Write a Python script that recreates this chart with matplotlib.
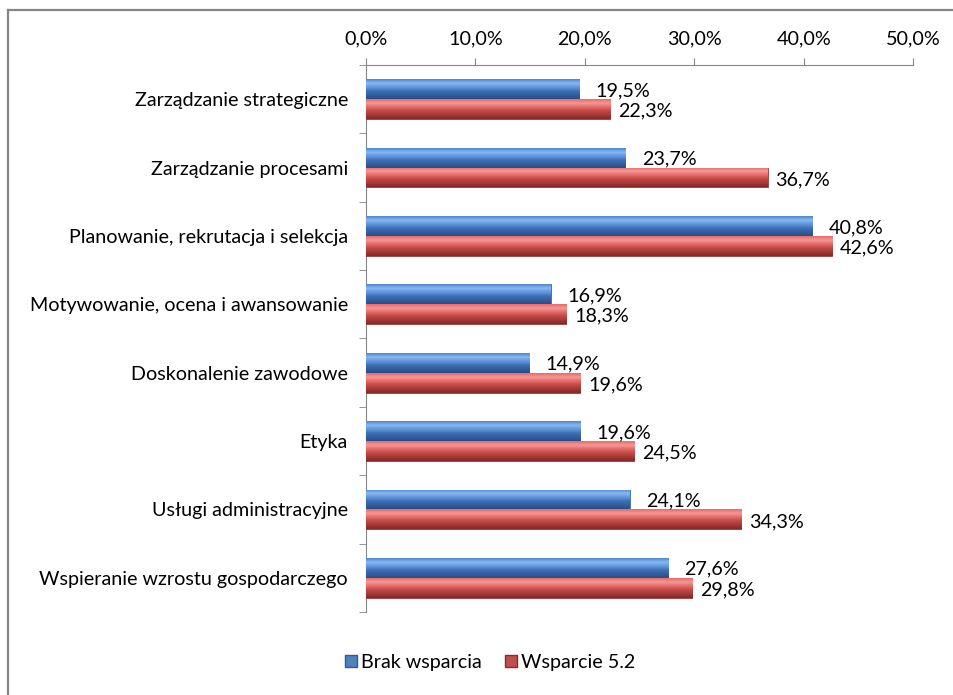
import numpy as np
import matplotlib.pyplot as plt
from matplotlib.patches import Rectangle
from matplotlib.lines import Line2D
from matplotlib.colors import LinearSegmentedColormap

categories = ['Zarządzanie strategiczne', 'Zarządzanie procesami',
              'Planowanie, rekrutacja i selekcja', 'Motywowanie, ocena i awansowanie',
              'Doskonalenie zawodowe', 'Etyka', 'Usługi administracyjne',
              'Wspieranie wzrostu gospodarczego']
brak = [19.5, 23.7, 40.8, 16.9, 14.9, 19.6, 24.1, 27.6]
wsparcie = [22.3, 36.7, 42.6, 18.3, 19.6, 24.5, 34.3, 29.8]
series_names = ['Brak wsparcia', 'Wsparcie 5.2']
ticks = [0, 10, 20, 30, 40, 50]

plt.rcParams['font.family'] = ['Lato', 'DejaVu Sans']
plt.rcParams['font.size'] = 14.2

# first colour = top of bar on screen (y axis is inverted)
blue_cmap = LinearSegmentedColormap.from_list(
    'b', [(0, '#4f85cc'), (0.2, '#86b8f2'), (0.45, '#5b8fd6'), (0.6, '#3e70b6'), (1, '#264f8a')])
red_cmap = LinearSegmentedColormap.from_list(
    'r', [(0, '#e86a68'), (0.2, '#f59896'), (0.45, '#de605d'), (0.6, '#c04a47'), (1, '#862826')])


def gradient_bars(ax, bars, cmap):
    grad = np.linspace(0, 1, 64).reshape(-1, 1)
    for b in bars:
        x, y = b.get_x(), b.get_y()
        w, h = b.get_width(), b.get_height()
        im = ax.imshow(grad, cmap=cmap, aspect='auto', origin='lower',
                       extent=[x, x + w, y, y + h], zorder=3)
        im.set_clip_path(b)
        b.set_facecolor('none')


def main():
    fig = plt.figure(figsize=(9.54, 6.95), dpi=100)
    ax = fig.add_axes([0.3836, 0.1194, 0.5735, 0.7871])

    y = np.arange(len(categories))
    h = 0.29
    b1 = ax.barh(y - h / 2, brak, height=h, color='#4f81bd', edgecolor='#2c5d98', linewidth=0.6, zorder=3)
    b2 = ax.barh(y + h / 2, wsparcie, height=h, color='#c0504d', edgecolor='#8b2b29', linewidth=0.6, zorder=3)
    gradient_bars(ax, b1, blue_cmap)
    gradient_bars(ax, b2, red_cmap)

    for i in range(len(categories)):
        ax.text(brak[i] + 1.5, y[i] - h / 2 + 0.02, f'{brak[i]:.1f}%'.replace('.', ','),
                va='center', ha='left')
        ax.text(wsparcie[i] + 0.7, y[i] + h / 2 + 0.03, f'{wsparcie[i]:.1f}%'.replace('.', ','),
                va='center', ha='left')

    ax.set_xlim(0, 50)
    ax.set_ylim(len(categories) - 0.5, -0.5)
    ax.set_xticks(ticks)
    ax.set_xticklabels([f'{t:.1f}%'.replace('.', ',') for t in ticks])
    ax.xaxis.tick_top()
    ax.set_yticks(y)
    ax.set_yticklabels(categories)
    ax.set_yticks(np.arange(-0.5, len(categories)), minor=True)
    ax.tick_params(axis='y', which='major', length=0, pad=13)
    ax.tick_params(axis='y', which='minor', length=5, color='#868686')
    ax.tick_params(axis='x', length=5, color='#868686', pad=8)
    for s in ['right', 'bottom']:
        ax.spines[s].set_visible(False)
    for s in ['top', 'left']:
        ax.spines[s].set_color('#868686')

    handles = [Rectangle((0, 0), 1, 1, facecolor='#4f81bd', edgecolor='#2c5d98'),
               Rectangle((0, 0), 1, 1, facecolor='#c0504d', edgecolor='#8b2b29')]
    fig.legend(handles, series_names, loc='center', bbox_to_anchor=(0.514, 0.047), ncol=2,
               frameon=False, handlelength=0.6, handleheight=0.6, handletextpad=0.2,
               columnspacing=1.2)

    # chart-area frame: only the left and top edges are visible in the picture
    fig.add_artist(Line2D([0.0079, 0.0079], [0, 0.9856], transform=fig.transFigure,
                          color='#868686', linewidth=1.6))
    fig.add_artist(Line2D([0.0079, 1], [0.9856, 0.9856], transform=fig.transFigure,
                          color='#868686', linewidth=1.6))
    fig.savefig('out.png')


main()
